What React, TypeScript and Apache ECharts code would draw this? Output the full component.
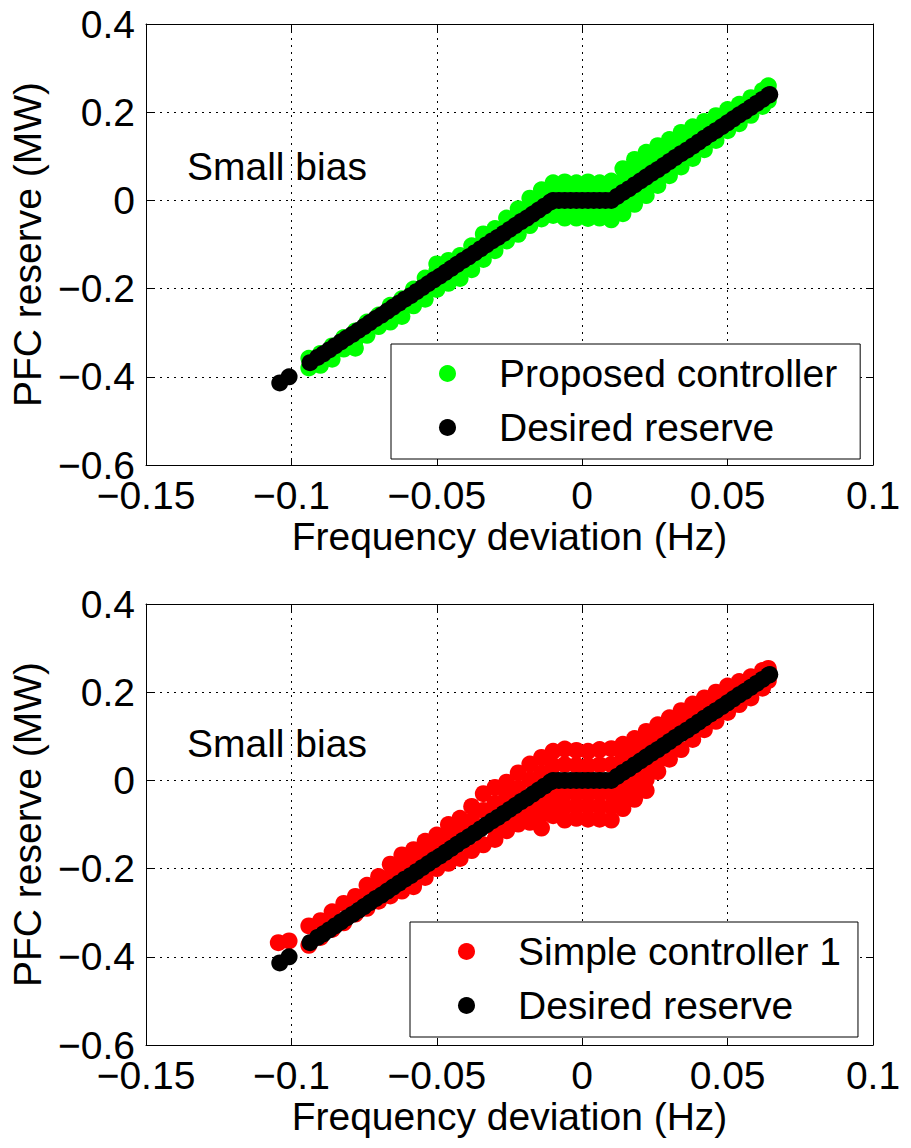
import React, { useEffect, useRef } from "react";
import * as echarts from "echarts";

// ---------- data ----------
const xTicks = [-0.15, -0.1, -0.05, 0, 0.05, 0.1];
const yTicks = [-0.6, -0.4, -0.2, 0, 0.2, 0.4];

// Desired reserve (black, identical in both panels)
const desiredX = [
  -0.104, -0.1008, -0.0936, -0.091, -0.089, -0.087, -0.085, -0.083, -0.081, -0.079,
  -0.077, -0.075, -0.073, -0.071, -0.069, -0.067, -0.065, -0.063, -0.061, -0.059,
  -0.057, -0.055, -0.053, -0.051, -0.049, -0.047, -0.045, -0.043, -0.041, -0.039,
  -0.037, -0.035, -0.033, -0.031, -0.029, -0.027, -0.025, -0.023, -0.021, -0.019,
  -0.017, -0.015, -0.013, -0.011, -0.01, -0.008, -0.006, -0.004, -0.002, 0,
  0.002, 0.004, 0.006, 0.008, 0.01, 0.012, 0.014, 0.016, 0.018, 0.02,
  0.022, 0.024, 0.026, 0.028, 0.03, 0.032, 0.034, 0.036, 0.038, 0.04,
  0.042, 0.044, 0.046, 0.048, 0.05, 0.052, 0.054, 0.056, 0.058, 0.06,
  0.062, 0.064, 0.0645,
];
const desiredY = [
  -0.414, -0.4, -0.368, -0.356, -0.348, -0.339, -0.33, -0.321, -0.312, -0.304,
  -0.295, -0.286, -0.277, -0.268, -0.26, -0.251, -0.242, -0.233, -0.224, -0.216,
  -0.207, -0.198, -0.189, -0.18, -0.172, -0.163, -0.154, -0.145, -0.136, -0.128,
  -0.119, -0.11, -0.101, -0.092, -0.084, -0.075, -0.066, -0.057, -0.048, -0.04,
  -0.031, -0.022, -0.013, -0.004, 0, 0, 0, 0, 0, 0,
  0, 0, 0, 0, 0, 0.009, 0.018, 0.026, 0.035, 0.044,
  0.053, 0.062, 0.07, 0.079, 0.088, 0.097, 0.106, 0.114, 0.123, 0.132,
  0.141, 0.15, 0.158, 0.167, 0.176, 0.185, 0.194, 0.202, 0.211, 0.22,
  0.229, 0.238, 0.24,
];

// Proposed controller (green cloud, top panel)
const proposedPoints: number[][] = [
  // upper edge
  [-0.094, -0.358], [-0.09, -0.347], [-0.086, -0.33], [-0.082, -0.311], [-0.078, -0.296],
  [-0.074, -0.276], [-0.07, -0.26], [-0.066, -0.238], [-0.062, -0.223], [-0.058, -0.201],
  [-0.054, -0.176], [-0.05, -0.144], [-0.046, -0.136], [-0.042, -0.125], [-0.038, -0.103],
  [-0.034, -0.076], [-0.03, -0.064], [-0.026, -0.04], [-0.022, -0.019], [-0.018, 0.005],
  [-0.014, 0.024], [-0.01, 0.04], [-0.006, 0.042], [-0.002, 0.04], [0.002, 0.042],
  [0.006, 0.04], [0.01, 0.044], [0.014, 0.072], [0.018, 0.093], [0.022, 0.109],
  [0.026, 0.124], [0.03, 0.138], [0.034, 0.154], [0.038, 0.167], [0.042, 0.179],
  [0.046, 0.192], [0.05, 0.206], [0.054, 0.218], [0.058, 0.233], [0.062, 0.249], [0.064, 0.26],
  // lower edge
  [-0.094, -0.38], [-0.09, -0.374], [-0.086, -0.36], [-0.082, -0.337], [-0.078, -0.335],
  [-0.074, -0.306], [-0.07, -0.286], [-0.066, -0.276], [-0.062, -0.263], [-0.058, -0.239],
  [-0.054, -0.224], [-0.05, -0.202], [-0.046, -0.188], [-0.042, -0.177], [-0.038, -0.157],
  [-0.034, -0.134], [-0.03, -0.114], [-0.026, -0.092], [-0.022, -0.077], [-0.018, -0.057],
  [-0.014, -0.042], [-0.01, -0.034], [-0.006, -0.04], [-0.002, -0.04], [0.002, -0.041],
  [0.006, -0.04], [0.01, -0.044], [0.014, -0.03], [0.018, -0.009], [0.022, 0.011],
  [0.026, 0.034], [0.03, 0.056], [0.034, 0.076], [0.038, 0.095], [0.042, 0.115],
  [0.046, 0.136], [0.05, 0.158], [0.054, 0.174], [0.058, 0.193], [0.062, 0.213], [0.064, 0.226],
  // inner points
  [-0.078, -0.317], [-0.066, -0.261], [-0.062, -0.246], [-0.054, -0.209], [-0.05, -0.16],
  [-0.046, -0.173], [-0.042, -0.159], [-0.038, -0.14], [-0.034, -0.091], [-0.026, -0.055],
  [-0.022, -0.036], [-0.018, -0.015], [-0.014, 0.003], [-0.01, 0.02], [-0.01, -0.017],
  [-0.006, 0.021], [-0.006, -0.02], [-0.002, 0.02], [-0.002, -0.02], [0.002, 0.021],
  [0.002, -0.02], [0.006, 0.02], [0.006, -0.02], [0.01, 0.022], [0.01, -0.022],
  [0.014, 0.045], [0.014, -0.006], [0.018, 0.064], [0.018, 0.013], [0.022, 0.081],
  [0.022, 0.032], [0.026, 0.097], [0.026, 0.052], [0.03, 0.113], [0.03, 0.072],
  [0.034, 0.13], [0.038, 0.145], [0.042, 0.16], [0.046, 0.175], [0.05, 0.191],
];

// Simple controller 1 (red cloud, bottom panel)
const simplePoints: number[][] = [
  [-0.1045, -0.368], [-0.1008, -0.364],
  // upper edge
  [-0.094, -0.33], [-0.09, -0.318], [-0.086, -0.298], [-0.082, -0.279], [-0.078, -0.263],
  [-0.074, -0.238], [-0.07, -0.218], [-0.066, -0.19], [-0.062, -0.169], [-0.058, -0.157],
  [-0.054, -0.138], [-0.05, -0.124], [-0.046, -0.1], [-0.042, -0.086], [-0.038, -0.059],
  [-0.034, -0.03], [-0.03, -0.016], [-0.026, -0.004], [-0.022, 0.017], [-0.018, 0.037],
  [-0.014, 0.052], [-0.01, 0.066], [-0.006, 0.071], [-0.002, 0.068], [0.002, 0.066],
  [0.006, 0.07], [0.01, 0.072], [0.014, 0.082], [0.018, 0.095], [0.022, 0.111],
  [0.026, 0.126], [0.03, 0.142], [0.034, 0.158], [0.038, 0.173], [0.042, 0.187],
  [0.046, 0.2], [0.05, 0.214], [0.054, 0.224], [0.058, 0.235], [0.062, 0.249], [0.064, 0.254],
  // lower edge
  [-0.094, -0.374], [-0.09, -0.356], [-0.086, -0.338], [-0.082, -0.323], [-0.078, -0.303],
  [-0.074, -0.29], [-0.07, -0.274], [-0.066, -0.262], [-0.062, -0.251], [-0.058, -0.241],
  [-0.054, -0.22], [-0.05, -0.2], [-0.046, -0.188], [-0.042, -0.177], [-0.038, -0.159],
  [-0.034, -0.146], [-0.03, -0.134], [-0.026, -0.114], [-0.022, -0.099], [-0.018, -0.095],
  [-0.014, -0.108], [-0.01, -0.08], [-0.006, -0.09], [-0.002, -0.086], [0.002, -0.088],
  [0.006, -0.088], [0.01, -0.09], [0.014, -0.064], [0.018, -0.043], [0.022, -0.023],
  [0.026, 0.02], [0.03, 0.048], [0.034, 0.07], [0.038, 0.093], [0.042, 0.115],
  [0.046, 0.134], [0.05, 0.154], [0.054, 0.172], [0.058, 0.187], [0.062, 0.209], [0.064, 0.226],
  // inner points, upper side
  [-0.074, -0.26], [-0.07, -0.241], [-0.066, -0.218], [-0.062, -0.199], [-0.058, -0.184],
  [-0.054, -0.166], [-0.05, -0.15], [-0.046, -0.129], [-0.042, -0.113], [-0.038, -0.091],
  [-0.034, -0.068], [-0.03, -0.052], [-0.026, -0.037], [-0.022, -0.018], [-0.018, 0.001],
  [-0.014, 0.017], [-0.01, 0.033], [-0.006, 0.036], [-0.002, 0.034], [0.002, 0.033],
  [0.006, 0.035], [0.01, 0.036], [0.014, 0.05], [0.018, 0.065], [0.022, 0.082],
  [0.026, 0.098], [0.03, 0.115], [0.034, 0.132], [0.038, 0.148], [0.042, 0.164],
  [0.046, 0.179], [0.05, 0.195],
  // inner points, lower side
  [-0.03, -0.111], [-0.026, -0.092], [-0.022, -0.076], [-0.018, -0.065], [-0.014, -0.048],
  [-0.014, -0.078], [-0.01, -0.027], [-0.01, -0.054], [-0.006, -0.03], [-0.006, -0.06],
  [-0.002, -0.029], [-0.002, -0.058], [0.002, -0.03], [0.002, -0.059], [0.006, -0.029],
  [0.006, -0.059], [0.01, -0.03], [0.01, -0.06], [0.014, -0.009], [0.014, -0.037],
  [0.018, 0.009], [0.018, -0.017], [0.022, 0.028], [0.022, 0.002], [0.026, 0.045],
  [0.03, 0.068],
];

const FONT = "'Liberation Sans', Arial, Helvetica, sans-serif";
const FS = 39;
const fmt = (v: number) => {
  const s = parseFloat(Number(v).toFixed(2)).toString();
  return s.replace("-", "\u2212");
};

export default function App() {
  const ref = useRef<HTMLDivElement>(null);

  useEffect(() => {
    if (!ref.current) return;
    const chart = echarts.init(ref.current, undefined, { renderer: "svg" });
    const desired = desiredX.map((x, i) => [x, desiredY[i]]);

    const grids = [
      { left: 146, top: 24, width: 727, height: 441 },
      { left: 146, top: 604, width: 727, height: 441 },
    ];

    const xAxes: any[] = [];
    const yAxes: any[] = [];
    grids.forEach((_, i) => {
      xAxes.push({
        gridIndex: i,
        type: "value",
        min: xTicks[0],
        max: xTicks[xTicks.length - 1],
        interval: 0.05,
        position: "bottom",
        axisLine: { onZero: false, lineStyle: { color: "#000", width: 1 } },
        axisTick: { inside: true, length: 7, lineStyle: { color: "#000" } },
        axisLabel: {
          fontSize: FS,
          lineHeight: 29,
          color: "#000",
          margin: 16,
          fontFamily: FONT,
          formatter: fmt,
        },
        splitLine: { show: true, lineStyle: { color: "#000", width: 1, type: [2, 5] } },
        name: "Frequency deviation (Hz)",
        nameLocation: "middle",
        nameGap: 52,
        nameTextStyle: { fontSize: FS, color: "#000", fontFamily: FONT },
      });
      xAxes.push({
        gridIndex: i,
        type: "value",
        min: xTicks[0],
        max: xTicks[xTicks.length - 1],
        interval: 0.05,
        position: "top",
        axisLine: { onZero: false, lineStyle: { color: "#000", width: 1 } },
        axisTick: { inside: true, length: 7, lineStyle: { color: "#000" } },
        axisLabel: { show: false },
        splitLine: { show: false },
      });
      yAxes.push({
        gridIndex: i,
        type: "value",
        min: yTicks[0],
        max: yTicks[yTicks.length - 1],
        interval: 0.2,
        position: "left",
        axisLine: { onZero: false, lineStyle: { color: "#000", width: 1 } },
        axisTick: { inside: true, length: 7, lineStyle: { color: "#000" } },
        axisLabel: {
          fontSize: FS,
          lineHeight: 29,
          color: "#000",
          margin: 11,
          fontFamily: FONT,
          formatter: fmt,
        },
        splitLine: { show: true, lineStyle: { color: "#000", width: 1, type: [2, 5] } },
        name: "PFC reserve (MW)",
        nameLocation: "middle",
        nameGap: 93,
        nameTextStyle: { fontSize: FS, color: "#000", fontFamily: FONT },
      });
      yAxes.push({
        gridIndex: i,
        type: "value",
        min: yTicks[0],
        max: yTicks[yTicks.length - 1],
        interval: 0.2,
        position: "right",
        axisLine: { onZero: false, lineStyle: { color: "#000", width: 1 } },
        axisTick: { inside: true, length: 7, lineStyle: { color: "#000" } },
        axisLabel: { show: false },
        splitLine: { show: false },
      });
    });

    const scatter = (name: string, data: number[][], color: string, panel: number) => ({
      type: "scatter",
      name,
      data,
      xAxisIndex: panel * 2,
      yAxisIndex: panel * 2,
      symbol: "circle",
      symbolSize: 17,
      itemStyle: { color, opacity: 1 },
      emphasis: { disabled: true },
      silent: true,
    });

    const legendBase = {
      orient: "vertical",
      itemWidth: 17,
      itemHeight: 17,
      itemGap: 15,
      icon: "circle",
      borderColor: "#000",
      borderWidth: 1,
      borderRadius: 0,
      backgroundColor: "#fff",
      selectedMode: false,
      textStyle: {
        fontSize: FS,
        lineHeight: 38,
        color: "#000",
        fontFamily: FONT,
        padding: [0, 0, 0, 38],
      },
    };

    chart.setOption({
      animation: false,
      backgroundColor: "#fff",
      grid: grids,
      xAxis: xAxes,
      yAxis: yAxes,
      legend: [
        {
          ...legendBase,
          left: 391,
          top: 344,
          padding: [10, 23, 12, 48],
          data: ["Proposed controller", "Desired reserve"],
        },
        {
          ...legendBase,
          left: 410,
          top: 922,
          padding: [10, 17, 12, 48],
          data: ["Simple controller 1", "Desired reserve"],
        },
      ],
      graphic: [
        {
          type: "text",
          x: 187,
          y: 166,
          style: { text: "Small bias", fontSize: FS, fontFamily: FONT, fill: "#000", verticalAlign: "middle" },
        },
        {
          type: "text",
          x: 187,
          y: 743,
          style: { text: "Small bias", fontSize: FS, fontFamily: FONT, fill: "#000", verticalAlign: "middle" },
        },
      ],
      series: [
        scatter("Proposed controller", proposedPoints, "#00ff00", 0),
        scatter("Desired reserve", desired, "#000000", 0),
        scatter("Simple controller 1", simplePoints, "#ff0000", 1),
        scatter("Desired reserve", desired, "#000000", 1),
      ],
    });

    return () => chart.dispose();
  }, []);

  return (
    <div
      ref={ref}
      style={{ position: "absolute", left: 0, top: 0, width: 911, height: 1148, background: "#fff" }}
    />
  );
}
